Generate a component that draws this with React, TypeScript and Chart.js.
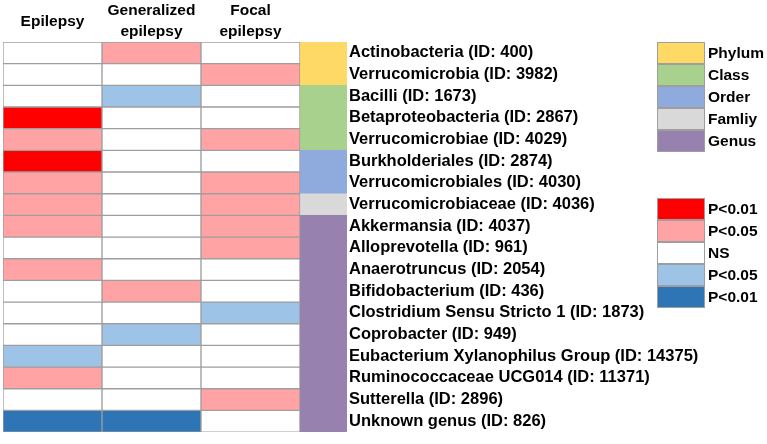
import React, { useEffect, useRef } from "react";
import { Chart, registerables } from "chart.js";

Chart.register(...registerables);

// ---- Data ----
const columnHeaders: string[][] = [["Epilepsy"], ["Generalized", "epilepsy"], ["Focal", "epilepsy"]];

const taxa: string[] = [
  "Actinobacteria (ID: 400)",
  "Verrucomicrobia (ID: 3982)",
  "Bacilli (ID: 1673)",
  "Betaproteobacteria (ID: 2867)",
  "Verrucomicrobiae (ID: 4029)",
  "Burkholderiales (ID: 2874)",
  "Verrucomicrobiales (ID: 4030)",
  "Verrucomicrobiaceae (ID: 4036)",
  "Akkermansia (ID: 4037)",
  "Alloprevotella (ID: 961)",
  "Anaerotruncus (ID: 2054)",
  "Bifidobacterium (ID: 436)",
  "Clostridium Sensu Stricto 1 (ID: 1873)",
  "Coprobacter (ID: 949)",
  "Eubacterium Xylanophilus Group (ID: 14375)",
  "Ruminococcaceae UCG014 (ID: 11371)",
  "Sutterella (ID: 2896)",
  "Unknown genus (ID: 826)",
];

// significance codes: 2 = P<0.01 up, 1 = P<0.05 up, 0 = NS, -1 = P<0.05 down, -2 = P<0.01 down
const epilepsy: number[] = [0, 0, 0, 2, 1, 2, 1, 1, 1, 0, 1, 0, 0, 0, -1, 1, 0, -2];
const generalized: number[] = [1, 0, -1, 0, 0, 0, 0, 0, 0, 0, 0, 1, 0, -1, 0, 0, 0, -2];
const focal: number[] = [0, 1, 0, 0, 1, 0, 1, 1, 1, 1, 0, 0, -1, 0, 0, 0, 1, 0];

const ranks: string[] = [
  "Phylum", "Phylum",
  "Class", "Class", "Class",
  "Order", "Order",
  "Famliy",
  "Genus", "Genus", "Genus", "Genus", "Genus", "Genus", "Genus", "Genus", "Genus", "Genus",
];

const rankNames: string[] = ["Phylum", "Class", "Order", "Famliy", "Genus"];
const sigLevels: number[] = [2, 1, 0, -1, -2];
const sigLabels: string[] = ["P<0.01", "P<0.05", "NS", "P<0.05", "P<0.01"];

// ---- Styles ----
const sigColors: Record<string, string> = {
  "2": "#FF0000",
  "1": "#FFA3A5",
  "0": "#FFFFFF",
  "-1": "#9DC3E6",
  "-2": "#2E75B6",
};
const rankColors: Record<string, string> = {
  Phylum: "#FFD966",
  Class: "#A9D18E",
  Order: "#8FAADC",
  Famliy: "#D9D9D9",
  Genus: "#9781AF",
};
const FONT = "'Liberation Sans', Arial, sans-serif";
const GRID = "#9E9E9E";
const TAX_END = 3.475;

const seriesList = [epilepsy, generalized, focal];

const overlayPlugin = {
  id: "overlay",
  afterDraw(chart: any) {
    const ctx: CanvasRenderingContext2D = chart.ctx;
    const xs = chart.scales.x;
    ctx.save();
    // column headers
    ctx.fillStyle = "#000";
    ctx.textAlign = "center";
    ctx.textBaseline = "alphabetic";
    ctx.font = `bold 15.5px ${FONT}`;
    columnHeaders.forEach((lines, i) => {
      const cx = xs.getPixelForValue(i + 0.5);
      if (lines.length === 1) {
        ctx.fillText(lines[0], cx, 26);
      } else {
        ctx.fillText(lines[0], cx, 15);
        ctx.fillText(lines[1], cx, 36);
      }
    });
    // legends
    const drawLegend = (top: number, colors: string[], labels: string[]) => {
      const bx = 657, bw = 48, bh = 22;
      ctx.textAlign = "left";
      ctx.textBaseline = "middle";
      ctx.font = `bold 15.5px ${FONT}`;
      colors.forEach((c, i) => {
        const y = top + i * bh;
        ctx.fillStyle = c;
        ctx.fillRect(bx, y, bw, bh);
        ctx.strokeStyle = GRID;
        ctx.lineWidth = 1;
        ctx.strokeRect(bx + 0.5, y + 0.5, bw - 1, bh - 1);
        ctx.fillStyle = "#000";
        ctx.fillText(labels[i], bx + bw + 3, y + bh / 2 + 1);
      });
    };
    drawLegend(42, rankNames.map((r) => rankColors[r]), rankNames);
    drawLegend(198, sigLevels.map((s) => sigColors[String(s)]), sigLabels);
    ctx.restore();
  },
};

export default function App() {
  const canvasRef = useRef<HTMLCanvasElement | null>(null);

  useEffect(() => {
    if (!canvasRef.current) return;
    const datasets: any[] = seriesList.map((vals, i) => ({
      label: columnHeaders[i].join(" "),
      data: vals.map(() => [i, i + 1]),
      backgroundColor: vals.map((v) => sigColors[String(v)]),
      borderColor: GRID,
      borderWidth: 1,
      borderSkipped: false,
      grouped: false,
      barPercentage: 1,
      categoryPercentage: 1,
    }));
    datasets.push({
      label: "Rank",
      data: ranks.map(() => [3, TAX_END]),
      backgroundColor: ranks.map((r) => rankColors[r]),
      borderWidth: 0,
      borderSkipped: false,
      grouped: false,
      barPercentage: 1,
      categoryPercentage: 1,
    });

    const chart = new Chart(canvasRef.current, {
      type: "bar",
      data: { labels: taxa, datasets },
      options: {
        indexAxis: "y",
        responsive: false,
        animation: false,
        layout: { padding: { left: 3, top: 42, bottom: 4, right: 0 } },
        plugins: {
          legend: { display: false },
          tooltip: { enabled: false },
        },
        scales: {
          x: {
            type: "linear",
            min: 0,
            max: TAX_END,
            display: false,
          },
          y: {
            type: "category",
            position: "right",
            grid: { display: false, drawTicks: false },
            border: { display: false },
            ticks: {
              color: "#000",
              padding: 2,
              autoSkip: false,
              font: { family: FONT, size: 16.5, weight: "bold" },
            },
            afterFit(axis: any) {
              axis.width = 420;
            },
          },
        },
      } as any,
      plugins: [overlayPlugin],
    });
    return () => chart.destroy();
  }, []);

  return (
    <div style={{ position: "absolute", left: 0, top: 0, width: 767, height: 444, background: "#fff" }}>
      <canvas ref={canvasRef} width={767} height={444} style={{ display: "block" }} />
    </div>
  );
}
